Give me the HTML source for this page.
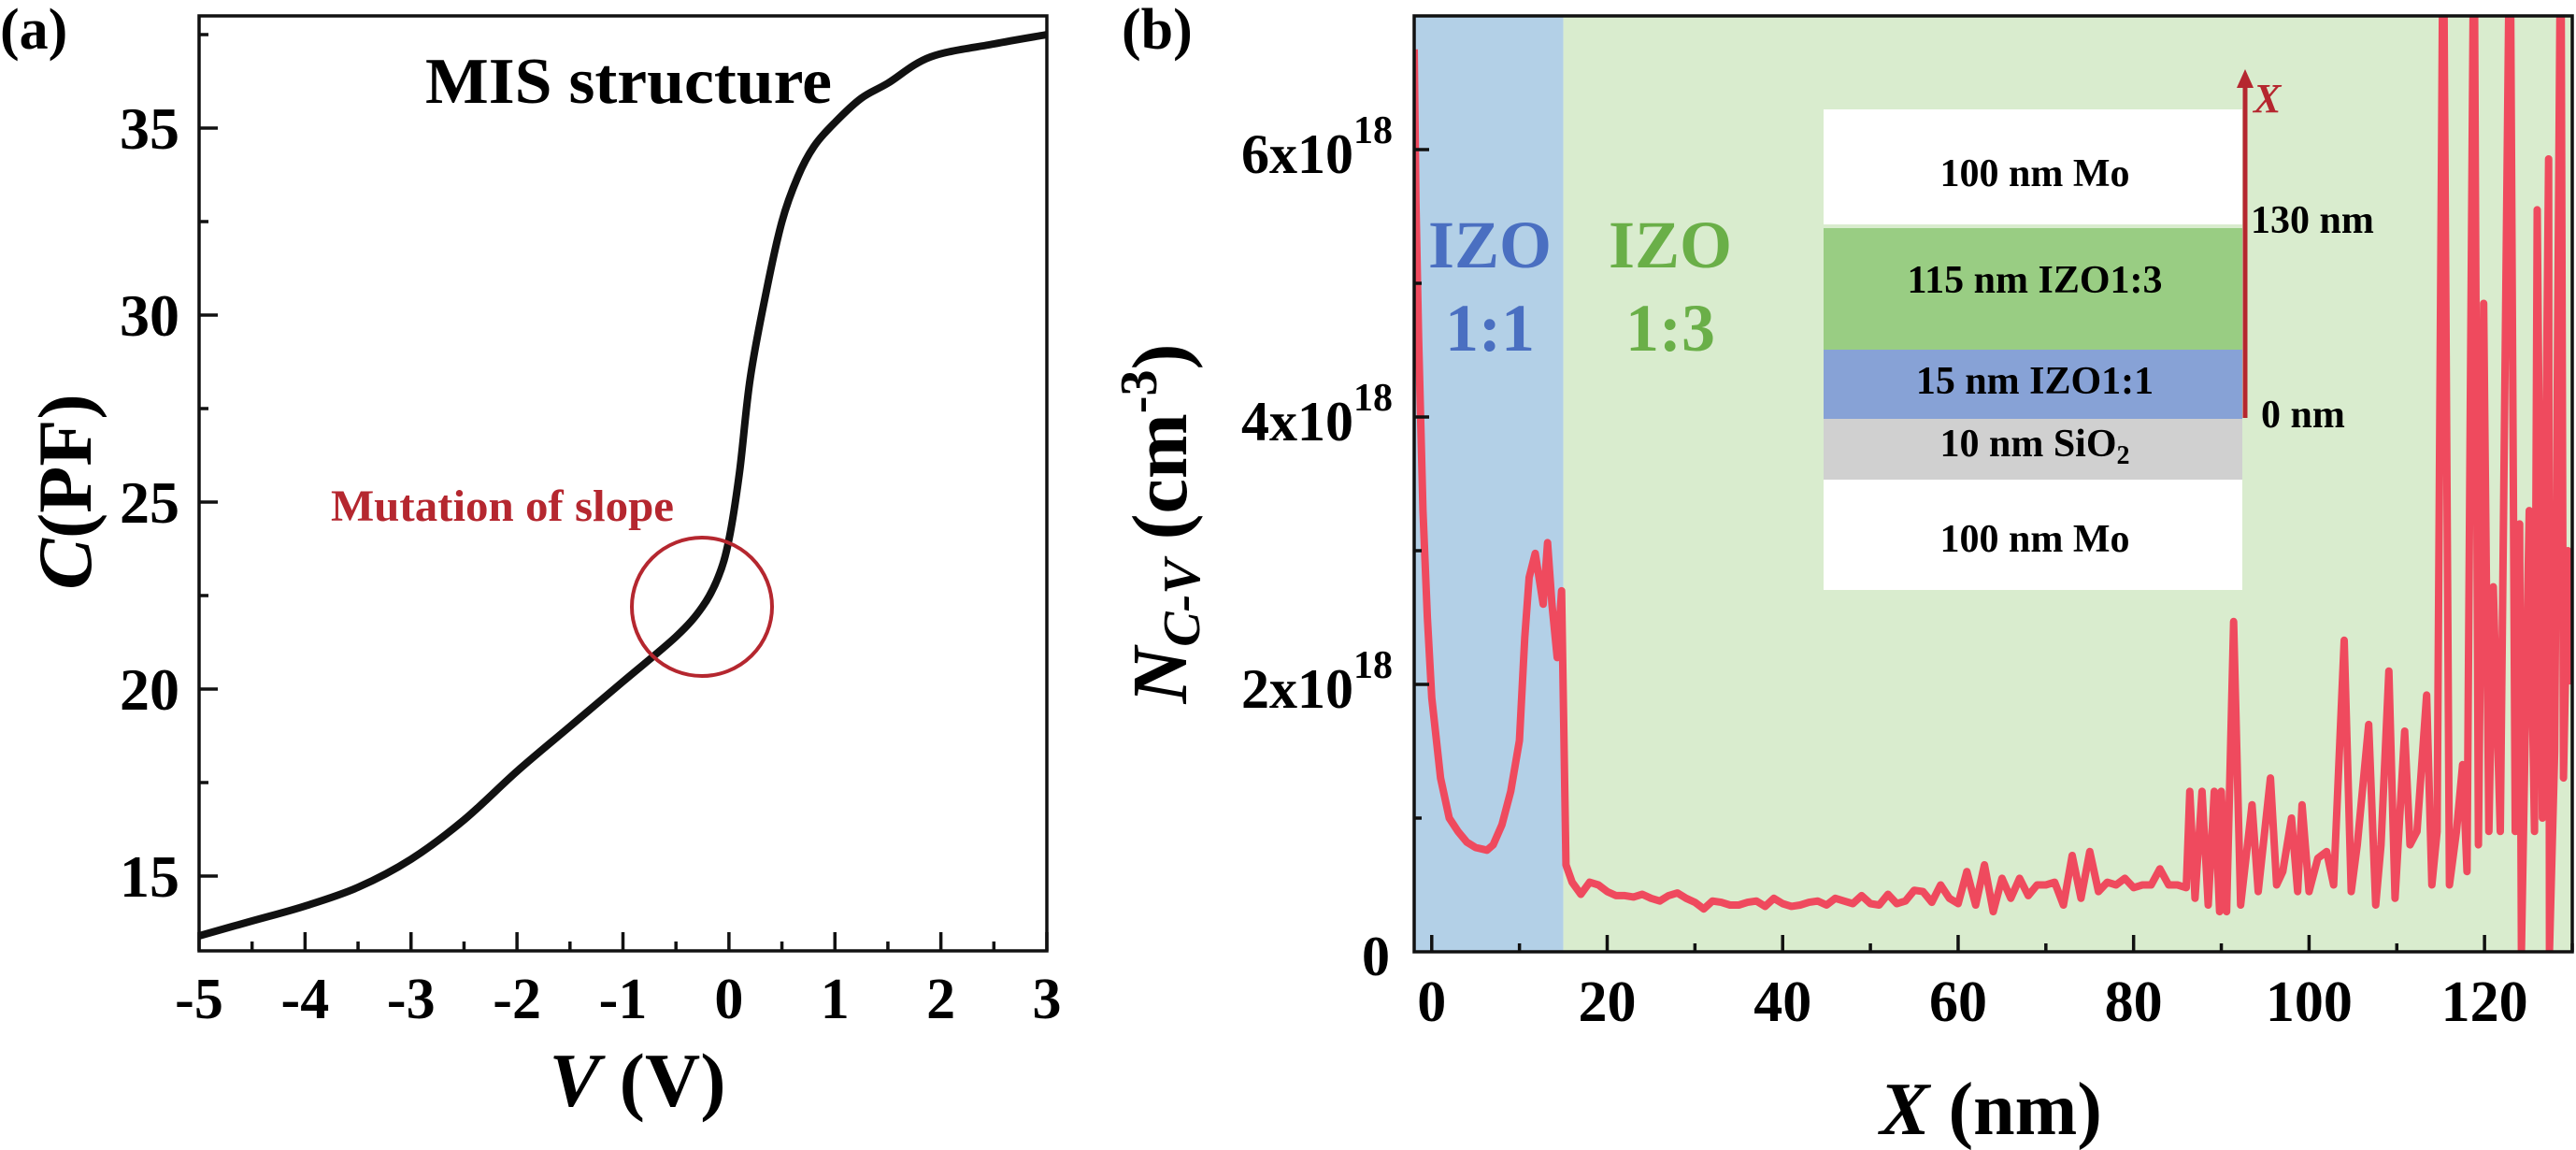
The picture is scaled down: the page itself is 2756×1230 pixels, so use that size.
<!DOCTYPE html>
<html><head><meta charset="utf-8"><style>
html,body{margin:0;padding:0;background:#fff;}
svg{display:block;font-family:"Liberation Serif",serif;font-weight:bold;}
</style></head><body>
<svg id="fig" width="2756" height="1230" viewBox="0 0 2756 1230">
<g id="pa"></g>
<g id="pb"></g>
</svg>
<script>
// Panel (a) data: C-V curve
const cvVoltage = [-5,-4.5,-4,-3.5,-3,-2.5,-2,-1.5,-1,-0.5,-0.25,-0.1,0,0.1,0.2,0.35,0.5,0.65,0.8,1.0,1.25,1.5,1.9,2.5,3.0];
const cvCap = [13.4,13.8,14.2,14.7,15.45,16.5,17.8,19.0,20.2,21.4,22.2,23.0,24.0,25.8,28.3,30.6,32.5,33.7,34.5,35.15,35.8,36.2,36.9,37.25,37.5];
const aXTicks = [-5,-4,-3,-2,-1,0,1,2,3];
const aYTicks = [15,20,25,30,35];
// Panel (b) data: N_C-V profile (units 1e18 cm^-3)
const ncvX = [-2,-1.8,-1.5,-1,-0.5,0,1,2,3,4,5,6.3,7,8,9,10,10.6,11.1,11.8,12.7,13.2,13.7,14.3,14.8,15.3,16,
17,18,19,20,21,22,23,24,25,26,27,28,29,30,31,32,33,34,35,36,37,38,39,40,41,42,43,44,45,46,47,48,49,50,51,52,53,54,55,56,57,58,59,60,61,62,63,64,65,66,67,68,69,70,71,72,73,74,75,76,77,78,79,80,81,82,83,84,85,86,
86.4,87,87.8,88.5,89.2,89.8,90,90.6,91.4,92.2,93.5,94.2,95.6,96.3,97,98,98.7,99.2,100,101,102,102.8,104,104.8,105.5,106.8,107.6,108.2,109.1,109.8,110.9,111.5,112.3,113.4,114,114.6,115.3,116,116.8,117.5,118,118.8,119.3,119.9,120.5,121,121.8,122.9,123.5,124,124.2,124.6,125.1,125.7,126,126.6,127.3,127.4,128,128.7,129,129.5,130];
const ncvY = [6.75,5.6,4.6,3.3,2.5,1.9,1.3,1.0,0.9,0.82,0.78,0.76,0.8,0.95,1.2,1.58,2.35,2.8,2.98,2.6,3.06,2.6,2.2,2.7,0.65,0.52,
0.43,0.52,0.5,0.45,0.42,0.42,0.41,0.43,0.4,0.38,0.42,0.44,0.4,0.37,0.32,0.38,0.37,0.35,0.35,0.37,0.38,0.34,0.4,0.36,0.34,0.35,0.37,0.38,0.35,0.4,0.38,0.36,0.42,0.36,0.35,0.43,0.36,0.38,0.46,0.45,0.37,0.5,0.4,0.36,0.6,0.35,0.65,0.3,0.55,0.4,0.55,0.42,0.5,0.5,0.52,0.35,0.72,0.4,0.75,0.45,0.52,0.5,0.55,0.48,0.5,0.5,0.62,0.5,0.5,0.48,
1.2,0.4,1.2,0.35,1.2,0.3,1.2,0.3,2.47,0.35,1.1,0.45,1.3,0.5,0.6,1.0,0.45,1.1,0.45,0.7,0.75,0.5,2.33,0.45,0.8,1.7,0.35,0.8,2.1,0.4,1.65,0.8,0.9,1.92,0.5,0.9,8,0.5,0.9,1.4,0.6,8,0.8,4.85,0.9,2.73,0.9,8,0.9,3.2,0,1.5,3.3,0.9,5.55,1.0,5.93,0,1.5,8,1.3,3.0,2.0];
const bXTicks = [0,20,40,60,80,100,120];
const bYTicks = [0,2,4,6];

const NS='http://www.w3.org/2000/svg';
function mk(parent,tag,attrs,text){const e=document.createElementNS(NS,tag);for(const k in attrs)e.setAttribute(k,attrs[k]);if(text!==undefined)e.textContent=text;parent.appendChild(e);return e;}
function smooth(pts){let d='M'+pts[0][0].toFixed(1)+','+pts[0][1].toFixed(1);
 for(let i=0;i<pts.length-1;i++){const p0=pts[Math.max(0,i-1)],p1=pts[i],p2=pts[i+1],p3=pts[Math.min(pts.length-1,i+2)];
  const c1x=p1[0]+(p2[0]-p0[0])/6,c1y=p1[1]+(p2[1]-p0[1])/6,c2x=p2[0]-(p3[0]-p1[0])/6,c2y=p2[1]-(p3[1]-p1[1])/6;
  d+='C'+c1x.toFixed(1)+','+c1y.toFixed(1)+' '+c2x.toFixed(1)+','+c2y.toFixed(1)+' '+p2[0].toFixed(1)+','+p2[1].toFixed(1);}
 return d;}

// ---------- Panel a ----------
const pa=document.getElementById('pa');
const aL=213,aR=1120,aT=17,aB=1017;
const ax=v=>aL+(v+5)/8*(aR-aL);
const ay=c=>aB-(c-13)/25*(aB-aT);
let e;
e=mk(pa,'text',{x:0,y:52,'font-size':62},'(a)');


const aPts=cvVoltage.map((v,i)=>[ax(v),ay(cvCap[i])]);
e=mk(pa,'path',{d:smooth(aPts),fill:'none',stroke:'#111',"stroke-width":8,"stroke-linejoin":'round'});


e=mk(pa,'rect',{x:aL,y:aT,width:aR-aL,height:aB-aT,fill:'none',stroke:'#111','stroke-width':3.5});


for(let v=-5;v<=3.001;v+=0.5){const maj=Math.abs(v-Math.round(v))<0.01;const L=maj?20:10;
 e=mk(pa,'line',{x1:ax(v),x2:ax(v),y1:aB,y2:aB-L,stroke:'#111','stroke-width':3.5});
 
 }
for(let c=15;c<=37.6;c+=2.5){const maj=(c%5===0);const L=maj?20:10;
 e=mk(pa,'line',{x1:aL,x2:aL+L,y1:ay(c),y2:ay(c),stroke:'#111','stroke-width':3.5});
 
 }
aXTicks.forEach(v=>{e=mk(pa,'text',{x:ax(v),y:1089,'font-size':62,'text-anchor':'middle'},String(v));
 
 });
aYTicks.forEach(c=>{e=mk(pa,'text',{x:192,y:ay(c)+22,'font-size':64,'text-anchor':'end'},String(c));
 
 });
e=mk(pa,'text',{x:682,y:1183,'font-size':82,'text-anchor':'middle'});
e.innerHTML='<tspan font-style="italic">V</tspan> (V)';


e=mk(pa,'text',{x:0,y:0,'font-size':82,'text-anchor':'middle',transform:'translate(97,526) rotate(-90)'});
e.innerHTML='<tspan font-style="italic">C</tspan>(PF)';


e=mk(pa,'text',{x:455,y:110,'font-size':70,textLength:435,lengthAdjust:'spacingAndGlyphs'},'MIS structure');


e=mk(pa,'text',{x:354,y:557,'font-size':48,fill:'#b5272f',textLength:367,lengthAdjust:'spacingAndGlyphs'},'Mutation of slope');


e=mk(pa,'ellipse',{cx:751,cy:649,rx:75,ry:74,fill:'none',stroke:'#b5272f','stroke-width':4});



// ---------- Panel b ----------
const pb=document.getElementById('pb');
const bL=1513,bR=2752,bT=17,bB=1018;
const bx=x=>bL+(x+2)/132*(bR-bL);
const by=n=>bB-n/7*(bB-bT);
e=mk(pb,'text',{x:1200,y:52,'font-size':62},'(b)');


e=mk(pb,'rect',{x:bL,y:bT,width:bx(15)-bL,height:bB-bT,fill:'#b3d0e7'});


e=mk(pb,'rect',{x:bx(15),y:bT,width:bR-bx(15),height:bB-bT,fill:'#d9ecce'});


const layers=[[117,240,'#ffffff','100 nm Mo',199],[244,374,'#99cd83','115 nm IZO1:3',313],[374,448,'#87a2d6','15 nm IZO1:1',421],[448,513,'#d0d0d0','10 nm  SiO',488],[513,631,'#ffffff','100 nm Mo',590]];
layers.forEach((l,i)=>{e=mk(pb,'rect',{x:1951,y:l[0],width:448,height:l[1]-l[0],fill:l[2]});
 
 
 const t=mk(pb,'text',{x:2177,y:l[4],'font-size':42,'text-anchor':'middle'});
 t.textContent=l[3];
 if(i===3){mk(t,'tspan',{'font-size':28,dy:8},'2');}
 
 });
e=mk(pb,'line',{x1:2402,x2:2402,y1:447,y2:88,stroke:'#b5272f','stroke-width':5});


e=mk(pb,'polygon',{points:'2402,74 2393,94 2411,94',fill:'#b5272f'});


e=mk(pb,'text',{x:2411,y:120,'font-size':44,fill:'#b5272f','font-style':'italic'},'X');


e=mk(pb,'text',{x:2408,y:249,'font-size':42},'130 nm');


e=mk(pb,'text',{x:2419,y:457,'font-size':42},'0 nm');


e=mk(pb,'text',{x:1594,y:286,'font-size':72,fill:'#4a6fc1','text-anchor':'middle'},'IZO');


e=mk(pb,'text',{x:1594,y:375,'font-size':72,fill:'#4a6fc1','text-anchor':'middle'},'1:1');


e=mk(pb,'text',{x:1787,y:286,'font-size':72,fill:'#6aaf48','text-anchor':'middle'},'IZO');


e=mk(pb,'text',{x:1787,y:375,'font-size':72,fill:'#6aaf48','text-anchor':'middle'},'1:3');


const cp=mk(pb,'clipPath',{id:'cb'});
mk(cp,'rect',{x:bL,y:bT,width:bR-bL,height:bB-bT});
let d='';ncvX.forEach((x,i)=>{d+=(i?'L':'M')+bx(x).toFixed(1)+','+by(ncvY[i]).toFixed(1);});
e=mk(pb,'path',{d:d,fill:'none',stroke:'#ef4a5e','stroke-width':8,'stroke-linejoin':'round','clip-path':'url(#cb)'});


e=mk(pb,'rect',{x:bL,y:bT,width:bR-bL,height:bB-bT,fill:'none',stroke:'#111','stroke-width':3.5});


for(let x=0;x<=130;x+=10){const L=(x%20===0)?18:9;
 e=mk(pb,'line',{x1:bx(x),x2:bx(x),y1:bB,y2:bB-L,stroke:'#111','stroke-width':3.5});
 
 }
for(let n=1;n<=6;n+=1){const L=(n%2===0)?16:8;
 e=mk(pb,'line',{x1:bL,x2:bL+L,y1:by(n),y2:by(n),stroke:'#111','stroke-width':3.5});
 
 }
bXTicks.forEach(x=>{e=mk(pb,'text',{x:bx(x),y:1092,'font-size':62,'text-anchor':'middle'},String(x));
 
 });
bYTicks.forEach(n=>{const t=mk(pb,'text',{x:1490,y:by(n)+25,'font-size':60,'text-anchor':'end'});
 if(n===0){t.setAttribute('x',1487);t.textContent='0';}
 else{t.textContent=n+'x10';mk(t,'tspan',{'font-size':42,dy:-32},'18');}
 
 });
e=mk(pb,'text',{x:2130,y:1213,'font-size':80,'text-anchor':'middle'});
e.innerHTML='<tspan font-style="italic">X</tspan> (nm)';


e=mk(pb,'text',{x:0,y:0,'font-size':84,'text-anchor':'middle',transform:'translate(1269,560) rotate(-90)'});
e.innerHTML='<tspan font-style="italic">N</tspan><tspan font-style="italic" font-size="56" dy="14">C-V</tspan><tspan dy="-14"> (cm</tspan><tspan font-size="56" dy="-32">-3</tspan><tspan dy="32">)</tspan>';


</script>
</body></html>
